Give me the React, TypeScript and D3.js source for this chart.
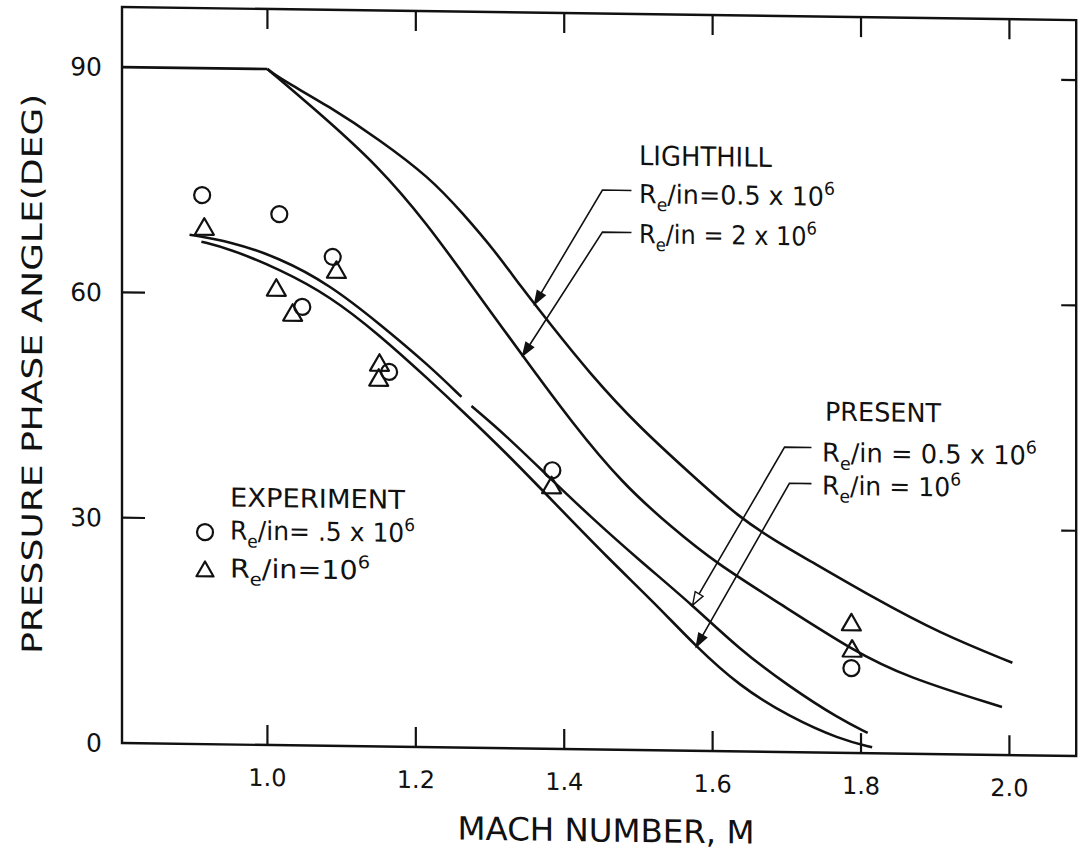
import React from 'react';
import * as d3 from 'd3';

const W = 1081;
const H = 854;

// axis ticks
const machTicks = [1.0, 1.2, 1.4, 1.6, 1.8, 2.0];
const machTickLabels = ['1.0', '1.2', '1.4', '1.6', '1.8', '2.0'];
const angleTicks = [0, 30, 60, 90];
const angleTickLabels = ['0', '30', '60', '90'];
const rightAngleTicks = [30, 60, 90];
const leftAngleTicks = [30, 60];

// subsonic plateau (both Lighthill curves)
const plateauMach = [0.804, 1.0];
const plateauDeg = [90, 90];

// Lighthill, Re/in = 0.5e6
const lighthill05Mach = [1.0, 1.016, 1.084, 1.151, 1.218, 1.263, 1.309, 1.34, 1.38, 1.434, 1.501, 1.569, 1.636, 1.69, 1.726, 1.815, 1.906, 2.004];
const lighthill05Deg = [90, 88.8, 85.1, 80.8, 75.9, 71.2, 65.9, 61.7, 56.7, 50.1, 43.0, 37.0, 31.1, 27.8, 25.8, 20.8, 16.1, 12.3];

// Lighthill, Re/in = 2e6
const lighthill2Mach = [1.0, 1.061, 1.151, 1.218, 1.263, 1.309, 1.344, 1.411, 1.478, 1.546, 1.605, 1.69, 1.788, 1.861, 1.99];
const lighthill2Deg = [90, 85.0, 77.2, 69.3, 63.2, 57.0, 52.3, 43.4, 35.5, 29.6, 25.0, 19.8, 13.7, 10.2, 6.4];

// Present, Re/in = 0.5e6 (NaN = small break in the drawn line)
const present05Mach = [0.895, 0.949, 1.016, 1.084, 1.151, 1.218, 1.2615, 1.268, 1.275, 1.322, 1.376, 1.434, 1.501, 1.573, 1.636, 1.7035, 1.771, 1.809];
const present05Deg = [67.8, 67.0, 64.9, 61.4, 56.3, 50.8, 46.7, NaN, 45.5, 41.6, 36.5, 31.1, 25.3, 19.4, 13.6, 8.7, 4.5, 2.7];

// Present, Re/in = 1e6
const present1Mach = [0.911, 0.949, 1.016, 1.084, 1.151, 1.218, 1.263, 1.322, 1.3895, 1.457, 1.524, 1.5755, 1.636, 1.7035, 1.771, 1.815];
const present1Deg = [66.9, 66.0, 63.4, 59.9, 54.8, 48.9, 44.8, 39.3, 32.5, 25.7, 19.4, 14.1, 8.7, 4.7, 1.8, 0.8];

// Experiment, circles Re/in = .5e6
const expCircleMach = [0.912, 1.016, 1.088, 1.047, 1.164, 1.384, 1.787];
const expCircleDeg = [73.1, 70.7, 65.1, 58.4, 49.9, 37.1, 11.3];

// Experiment, triangles Re/in = 1e6
const expTriMach = [0.915, 1.093, 1.012, 1.034, 1.151, 1.15, 1.383, 1.787, 1.788];
const expTriDeg = [68.9, 63.4, 60.9, 57.6, 51.1, 49.1, 35.1, 17.4, 13.9];

// leader arrows: Lighthill 0.5, Lighthill 2, Present 0.5, Present 1
const leaderTipMach = [1.36, 1.344, 1.573, 1.578];
const leaderKneeMach = [1.4515, 1.4515, 1.697, 1.7035];
const leaderKneeDeg = [74.5, 68.9, 40.6, 35.8];
const leaderEndMach = [1.4906, 1.4906, 1.7332, 1.7332];
const leaderOpenHead = [false, false, true, false];

const zip = (a: number[], b: number[]) => a.map((v, i) => [v, b[i]] as [number, number]);

function interpAt(ms: number[], ds: number[], m: number) {
  for (let i = 0; i < ms.length - 1; i++) {
    if (m >= ms[i] && m <= ms[i + 1]) {
      const t = (m - ms[i]) / (ms[i + 1] - ms[i]);
      return ds[i] + t * (ds[i + 1] - ds[i]);
    }
  }
  return ds[ds.length - 1];
}

const FONT = '"DejaVu Sans", sans-serif';

function ReLabel({ x, y, rest, fs, len }: { x: number; y: number; rest: string; fs: number; len: number }) {
  return (
    <text x={x} y={y} fontSize={fs} textLength={len} lengthAdjust="spacingAndGlyphs">
      R<tspan fontSize={fs * 0.68} dy={fs * 0.3}>e</tspan>
      <tspan dy={-fs * 0.3}>{rest}</tspan>
      <tspan fontSize={fs * 0.68} dy={-fs * 0.42}>6</tspan>
    </text>
  );
}

export default function App() {
  const x = d3.scaleLinear().domain([0.804, 2.09]).range([122, 1076.2]);
  const y = d3.scaleLinear().domain([0, 98]).range([743, 7]);

  const line = d3
    .line<[number, number]>()
    .defined((d) => !isNaN(d[1]))
    .x((d) => x(d[0]))
    .y((d) => y(d[1]))
    .curve(d3.curveBasis);

  const straight = d3
    .line<[number, number]>()
    .x((d) => x(d[0]))
    .y((d) => y(d[1]));

  const x0 = x.range()[0];
  const x1 = x.range()[1];
  const yTop = y.range()[1];
  const yBot = y.range()[0];

  const curveSets: [number[], number[]][] = [
    [lighthill05Mach, lighthill05Deg],
    [lighthill2Mach, lighthill2Deg],
    [present05Mach, present05Deg],
    [present1Mach, present1Deg],
  ];

  const leaders = leaderTipMach.map((tm, i) => {
    const [ms, ds] = curveSets[i];
    const tx = x(tm);
    const ty = y(interpAt(ms, ds.map((v) => (isNaN(v) ? 46 : v)), tm));
    const kx = x(leaderKneeMach[i]);
    const ky = y(leaderKneeDeg[i]);
    const ex = x(leaderEndMach[i]);
    const ang = Math.atan2(ty - ky, tx - kx);
    const L = 13;
    const hw = 4.5;
    const bx = tx - L * Math.cos(ang);
    const by = ty - L * Math.sin(ang);
    const px = -Math.sin(ang) * hw;
    const py = Math.cos(ang) * hw;
    const head = `M${tx},${ty}L${bx + px},${by + py}L${bx - px},${by - py}Z`;
    return { tx, ty, kx, ky, ex, head, open: leaderOpenHead[i], bx, by };
  });

  const triPath = (cx: number, cy: number, s = 1) =>
    `M${cx},${cy - 8.5 * s}L${cx + 9.5 * s},${cy + 8 * s}L${cx - 9.5 * s},${cy + 8 * s}Z`;

  return (
    <svg
      width={W}
      height={H}
      style={{ position: 'absolute', left: 0, top: 0, background: '#fff' }}
      fontFamily={FONT}
    >
      <rect x={0} y={0} width={W} height={H} fill="#fff" />
      <g transform="translate(122,0) skewY(0.785) translate(-122,0)" fill="#111" stroke="none">
        {/* frame */}
        <rect x={x0} y={yTop} width={x1 - x0} height={yBot - yTop} fill="none" stroke="#111" strokeWidth={2.4} />
        {/* x ticks top & bottom */}
        {machTicks.map((m) => (
          <g key={m} stroke="#111" strokeWidth={2.2}>
            <line x1={x(m)} x2={x(m)} y1={yBot} y2={yBot - 20} />
            <line x1={x(m)} x2={x(m)} y1={yTop} y2={yTop + 20} />
          </g>
        ))}
        {leftAngleTicks.map((a) => (
          <line key={'l' + a} x1={x0} x2={x0 + 23} y1={y(a)} y2={y(a)} stroke="#111" strokeWidth={2.2} />
        ))}
        {rightAngleTicks.map((a) => (
          <line key={'r' + a} x1={x1} x2={x1 - 15} y1={y(a)} y2={y(a)} stroke="#111" strokeWidth={2.2} />
        ))}
        {/* tick labels */}
        {machTicks.map((m, i) => (
          <text key={'xl' + m} x={x(m)} y={784} fontSize={24} textAnchor="middle">
            {machTickLabels[i]}
          </text>
        ))}
        {angleTicks.map((a, i) => (
          <text key={'yl' + a} x={102} y={y(a) + 9} fontSize={25} textAnchor="end">
            {angleTickLabels[i]}
          </text>
        ))}

        {/* curves */}
        <g fill="none" stroke="#111" strokeWidth={2.6} strokeLinejoin="round">
          <path d={straight(zip(plateauMach, plateauDeg)) || ''} />
          <path d={line(zip(lighthill05Mach, lighthill05Deg)) || ''} />
          <path d={line(zip(lighthill2Mach, lighthill2Deg)) || ''} />
          <path d={line(zip(present05Mach, present05Deg)) || ''} />
          <path d={line(zip(present1Mach, present1Deg)) || ''} />
        </g>

        {/* experiment markers */}
        <g fill="none" stroke="#111" strokeWidth={2.2}>
          {expCircleMach.map((m, i) => (
            <circle key={'c' + i} cx={x(m)} cy={y(expCircleDeg[i])} r={8} />
          ))}
          {expTriMach.map((m, i) => (
            <path key={'t' + i} d={triPath(x(m), y(expTriDeg[i]))} strokeLinejoin="round" />
          ))}
        </g>

        {/* leaders */}
        {leaders.map((l, i) => (
          <g key={'ld' + i}>
            <path
              d={`M${l.open ? l.bx : l.tx},${l.open ? l.by : l.ty}L${l.kx},${l.ky}L${l.ex},${l.ky}`}
              fill="none"
              stroke="#111"
              strokeWidth={1.6}
            />
            <path d={l.head} fill={l.open ? '#fff' : '#111'} stroke="#111" strokeWidth={1.4} />
          </g>
        ))}

        {/* annotations */}
        <text x={639} y={158} fontSize={27} textLength={133} lengthAdjust="spacingAndGlyphs">LIGHTHILL</text>
        <ReLabel x={639} y={196} rest="/in=0.5 x 10" fs={26} len={196} />
        <ReLabel x={639} y={236} rest="/in = 2 x 10" fs={26} len={178} />

        <text x={825} y={411} fontSize={26} textLength={116} lengthAdjust="spacingAndGlyphs">PRESENT</text>
        <ReLabel x={822} y={452} rest="/in = 0.5 x 10" fs={26} len={215} />
        <ReLabel x={822} y={485} rest="/in = 10" fs={26} len={139} />

        <text x={230} y={505} fontSize={26} textLength={175} lengthAdjust="spacingAndGlyphs">EXPERIMENT</text>
        <circle cx={205} cy={531} r={8} fill="none" stroke="#111" strokeWidth={2.2} />
        <ReLabel x={230} y={538} rest="/in= .5 x 10" fs={26} len={185} />
        <path d={triPath(205, 568, 0.9)} fill="none" stroke="#111" strokeWidth={2.2} strokeLinejoin="round" />
        <ReLabel x={230} y={576} rest="/in=10" fs={26} len={140} />

        {/* axis titles */}
        <text x={606} y={835} fontSize={32} textAnchor="middle" textLength={297} lengthAdjust="spacingAndGlyphs">
          MACH NUMBER, M
        </text>
        <text
          transform="rotate(-90)"
          x={-375}
          y={42}
          fontSize={28}
          textAnchor="middle"
          textLength={560}
          lengthAdjust="spacingAndGlyphs"
        >
          PRESSURE PHASE ANGLE(DEG)
        </text>
      </g>
    </svg>
  );
}
